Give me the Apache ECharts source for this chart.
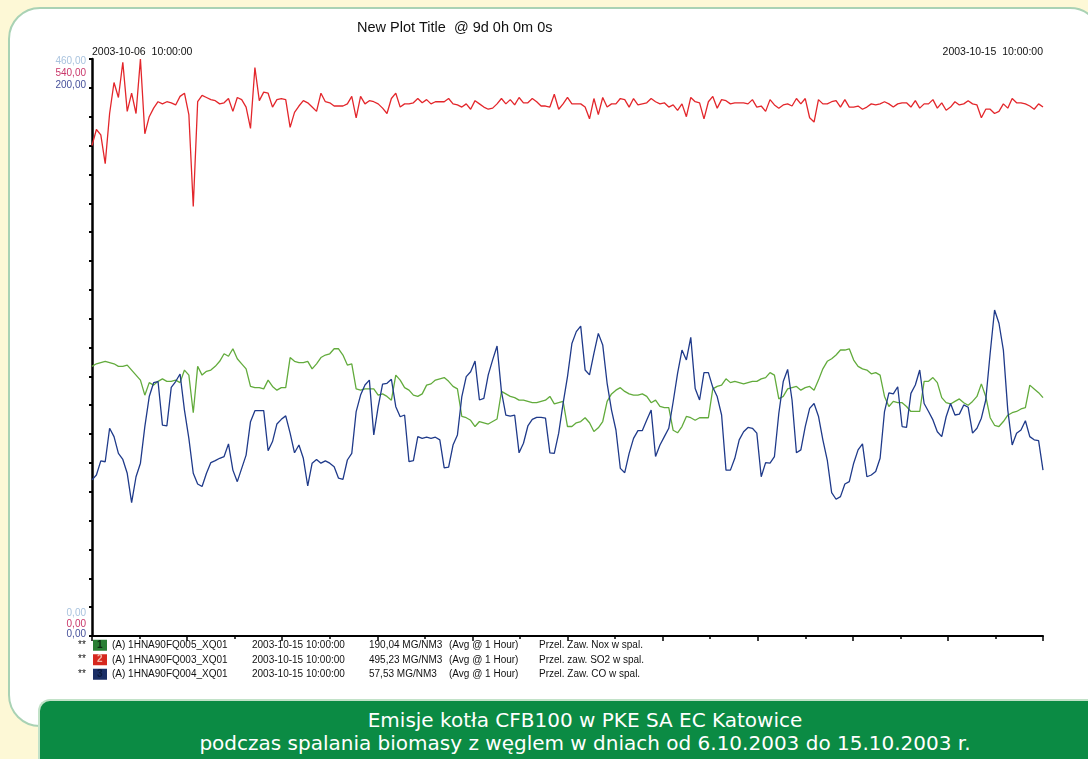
<!DOCTYPE html>
<html>
<head>
<meta charset="utf-8">
<script src="https://cdn.jsdelivr.net/npm/echarts@6/dist/echarts.min.js"></script>
<style>
  html, body { margin: 0; padding: 0; }
  body { width: 1088px; height: 759px; background: #fdf8d6; position: relative; overflow: hidden; }
  .panel {
    position: absolute; left: 8px; top: 7px; width: 1090px; height: 716px;
    background: #fff; border: 2.5px solid #a9d2b4; border-radius: 32px;
  }
  .banner {
    position: absolute; left: 38px; top: 699px; width: 1030px; height: 70px;
    padding-left: 30px; box-sizing: content-box;
    background: #0b8b44; border-top: 2px solid #c2e2c8; border-left: 2px solid #c2e2c8;
    border-top-left-radius: 12px;
    color: #fff; font-family: "DejaVu Sans", sans-serif; font-size: 20px;
    line-height: 23px; text-align: center; padding-top: 8px;
  }
  #chart { position: absolute; left: 0; top: 0; width: 1088px; height: 759px; }
</style>
</head>
<body>
<div class="panel"></div>
<div class="banner">Emisje kotła CFB100 w PKE SA EC Katowice<br>podczas spalania biomasy z węglem w dniach od 6.10.2003 do 15.10.2003 r.</div>
<div id="chart"></div>
<script>
  // hourly averages 2003-10-06 10:00 .. 2003-10-15 10:00 (217 points)
  const stepMinutes = 60
  const spanMinutes = 12960

  const noxValues = [
    215, 217, 218, 219, 218, 217, 215, 215, 216, 212, 208, 204, 192, 202, 200, 203, 205, 203, 203, 204,
    202, 212, 208, 178, 215, 208, 211, 212, 215, 219, 225, 223, 229, 221, 217, 213, 199, 198, 198, 197,
    204, 199, 196, 198, 198, 222, 219, 218, 218, 219, 213, 217, 222, 224, 225, 229, 229, 224, 216, 217,
    197, 196, 197, 197, 197, 192, 193, 191, 188, 208, 204, 198, 196, 192, 191, 193, 200, 201, 204, 205,
    206, 203, 199, 197, 175, 174, 172, 167, 171, 170, 169, 171, 173, 195, 193, 191, 190, 188, 188, 187,
    186, 186, 187, 188, 191, 185, 186, 187, 167, 167, 170, 171, 174, 170, 163, 166, 171, 187, 193, 196,
    198, 195, 193, 192, 192, 193, 191, 186, 188, 183, 182, 182, 164, 162, 167, 175, 174, 172, 174, 174,
    174, 197, 199, 200, 205, 202, 203, 202, 201, 202, 203, 203, 205, 206, 210, 208, 189, 191, 197, 198,
    199, 196, 198, 199, 196, 204, 213, 219, 221, 224, 228, 228, 229, 220, 215, 213, 212, 209, 210, 208,
    191, 183, 187, 186, 186, 183, 179, 179, 179, 203, 203, 206, 202, 190, 186, 185, 187, 189, 186, 184,
    187, 191, 201, 191, 174, 168, 167, 171, 176, 178, 179, 181, 182, 200, 197, 194, 190
  ]

  const so2Values = [
    459, 474, 469, 442, 489, 518, 504, 537, 491, 508, 489, 540, 470, 486, 494, 500, 498, 500, 499, 497,
    505, 508, 488, 402, 500, 506, 504, 502, 501, 498, 499, 503, 491, 504, 502, 495, 475, 532, 501, 509,
    508, 495, 502, 503, 502, 476, 490, 496, 501, 499, 495, 491, 508, 500, 499, 496, 496, 496, 498, 505,
    485, 505, 498, 501, 500, 498, 494, 489, 503, 508, 495, 498, 498, 499, 503, 499, 502, 498, 500, 500,
    500, 503, 498, 497, 495, 498, 493, 501, 498, 495, 493, 494, 498, 503, 498, 502, 497, 504, 499, 499,
    503, 500, 496, 496, 495, 507, 493, 498, 504, 498, 498, 498, 495, 484, 503, 488, 504, 495, 498, 498,
    503, 502, 495, 503, 497, 498, 499, 503, 500, 498, 499, 495, 497, 492, 498, 486, 504, 500, 499, 484,
    500, 505, 494, 502, 501, 498, 499, 499, 499, 498, 502, 495, 496, 491, 502, 497, 494, 497, 498, 496,
    503, 498, 503, 485, 481, 502, 498, 498, 500, 501, 495, 502, 495, 495, 496, 493, 495, 498, 497, 498,
    500, 498, 495, 498, 499, 499, 495, 501, 494, 498, 498, 502, 494, 499, 492, 495, 500, 497, 498, 501,
    498, 497, 485, 493, 493, 489, 491, 498, 494, 503, 499, 499, 498, 496, 493, 498, 495
  ]

  const coValues = [
    54.1, 55.8, 60.7, 60.4, 72.0, 69.1, 63.3, 61.2, 56.4, 46.2, 55.2, 59.9, 72.6, 83.0, 87.8, 88.2, 73.1, 72.8, 86.2, 88.2,
    90.8, 78.3, 68.5, 56.4, 52.7, 51.8, 56.4, 60.1, 60.8, 61.6, 62.2, 66.6, 57.5, 53.5, 58.1, 62.7, 74.3, 78.1, 78.1, 78.1,
    64.2, 67.4, 73.5, 75.1, 76.3, 70.3, 63.5, 66.2, 61.6, 52.0, 59.9, 61.2, 59.9, 60.7, 59.9, 58.7, 54.7, 54.3, 61.0, 63.3,
    77.8, 83.5, 87.0, 88.7, 69.7, 79.5, 87.3, 87.6, 89.0, 79.5, 76.0, 76.6, 60.4, 60.8, 69.1, 68.5, 68.9, 68.5, 68.9, 68.0,
    58.3, 58.5, 66.2, 69.7, 83.0, 89.9, 91.6, 95.3, 81.8, 82.4, 90.5, 95.7, 100.5, 84.7, 76.6, 76.2, 76.6, 63.5, 66.8, 72.8,
    75.1, 75.8, 75.8, 75.5, 63.5, 63.3, 70.3, 80.6, 89.9, 101.4, 105.5, 107.4, 92.2, 90.5, 98.0, 104.9, 100.9, 87.6, 78.3, 71.4,
    58.1, 56.6, 63.3, 68.5, 71.2, 71.2, 74.9, 78.3, 62.2, 66.2, 69.1, 72.0, 81.2, 91.0, 99.1, 95.7, 103.5, 85.8, 81.8, 91.3,
    91.3, 86.2, 83.0, 76.6, 57.5, 57.5, 61.6, 68.0, 70.8, 72.3, 72.0, 70.3, 55.2, 60.1, 59.9, 62.2, 77.2, 88.2, 92.4, 81.8,
    63.5, 64.5, 72.6, 78.9, 80.6, 76.2, 68.0, 61.0, 49.7, 47.4, 48.3, 52.7, 53.5, 59.9, 64.5, 66.6, 55.2, 55.8, 57.0, 61.6,
    77.8, 84.3, 83.9, 86.4, 72.6, 72.3, 84.1, 87.0, 92.2, 80.6, 77.8, 74.9, 70.8, 69.1, 76.0, 80.6, 76.6, 76.9, 80.1, 79.3,
    70.3, 72.0, 75.5, 81.8, 98.0, 113.0, 108.4, 99.1, 78.3, 66.2, 70.3, 71.4, 74.6, 69.1, 68.0, 67.7, 57.5
  ]

  // axis ranges (one per pen)
  const noxMax = 460
  const so2Max = 540
  const coMax = 200

  const dateLabels = ['2003-10-06  10:00:00', '2003-10-15  10:00:00']

  // legend rows
  const penNames = ['Przel. Zaw. Nox w spal.', 'Przel. zaw. SO2 w spal.', 'Przel. Zaw. CO w spal.']
  const penTags = ['(A) 1HNA90FQ005_XQ01', '(A) 1HNA90FQ003_XQ01', '(A) 1HNA90FQ004_XQ01']
  const penTimes = ['2003-10-15 10:00:00', '2003-10-15 10:00:00', '2003-10-15 10:00:00']
  const penLast = ['190,04 MG/NM3', '495,23 MG/NM3', '57,53 MG/NM3']
  const penAvg = ['(Avg @ 1 Hour)', '(Avg @ 1 Hour)', '(Avg @ 1 Hour)']

  const lineColors = ['#62ab3c', '#e3262b', '#1f3a8a']
  const boxColors = ['#2a7f34', '#d6281f', '#1b2f66']
  const numColors = ['#0d2a12', '#f2b6a6', '#0a1a3c']
  const labelColors = ['#a9c3de', '#c9376a', '#46509a']

  const font = '"Liberation Sans", Arial, sans-serif'

  function fmt(v) {
    return v.toFixed(2).replace('.', ',')
  }

  function toPairs(values) {
    return values.map(function (v, i) { return [i * stepMinutes, v] })
  }

  // left axis; only the first one draws the line and ticks, all show min/max labels stacked
  function valueAxis(max, idx, padTop, padBottom) {
    return {
      type: 'value',
      min: 0,
      max: max,
      interval: max / 20,
      position: 'left',
      axisLine: { show: idx === 0, lineStyle: { color: '#000', width: 2.5 } },
      axisTick: { show: idx === 0, length: 3, lineStyle: { color: '#000', width: 2 } },
      splitLine: { show: false },
      axisLabel: {
        margin: 6,
        fontSize: 10,
        fontFamily: font,
        color: labelColors[idx],
        formatter: function (v) {
          if (v === max) return '{t|' + fmt(v) + '}'
          if (v === 0) return '{b|' + fmt(v) + '}'
          return ''
        },
        rich: {
          t: { padding: [padTop, 0, 0, 0], fontSize: 10, color: labelColors[idx], fontFamily: font },
          b: { padding: [0, 0, padBottom, 0], fontSize: 10, color: labelColors[idx], fontFamily: font }
        }
      }
    }
  }

  let chart = echarts.init(document.getElementById('chart'), null, { renderer: 'canvas' })

  let option = {
    backgroundColor: 'transparent',
    animation: false,
    title: {
      text: 'New Plot Title  @ 9d 0h 0m 0s',
      left: 357,
      top: 20,
      padding: 0,
      textStyle: { fontSize: 14.5, fontWeight: 'normal', color: '#111', fontFamily: font }
    },
    grid: { left: 92, right: 45, top: 59, bottom: 123, containLabel: false },
    xAxis: [{
      type: 'value',
      min: 0,
      max: spanMinutes,
      interval: spanMinutes / 10,
      axisLine: { lineStyle: { color: '#000', width: 2 } },
      axisTick: { length: 5, lineStyle: { color: '#000', width: 1.5 } },
      minorTick: { show: true, splitNumber: 2, length: 3, lineStyle: { color: '#000', width: 1.5 } },
      axisLabel: { show: false },
      splitLine: { show: false }
    }, {
      type: 'value',
      position: 'top',
      min: 0,
      max: spanMinutes,
      interval: spanMinutes,
      axisLine: { show: false },
      axisTick: { show: false },
      splitLine: { show: false },
      axisLabel: {
        margin: 1,
        fontSize: 10.5,
        fontFamily: font,
        color: '#111',
        showMinLabel: true,
        showMaxLabel: true,
        alignMinLabel: 'left',
        alignMaxLabel: 'right',
        formatter: function (v) { return v === 0 ? dateLabels[0] : dateLabels[1] }
      }
    }],
    yAxis: [
      valueAxis(noxMax, 0, 4, 46),
      valueAxis(so2Max, 1, 28, 24),
      valueAxis(coMax, 2, 52, 4)
    ],
    legend: {
      orient: 'vertical',
      left: 93,
      top: 639,
      padding: 0,
      itemGap: 2,
      itemWidth: 14,
      itemHeight: 11,
      icon: 'rect',
      selectedMode: false,
      data: penNames.map(function (n, i) { return { name: n, itemStyle: { color: boxColors[i] } } }),
      textStyle: { fontSize: 10, fontFamily: font, color: '#111', lineHeight: 12.5 },
      formatter: function (name) {
        let i = penNames.indexOf(name)
        return '{a|' + penTags[i] + '}{b|' + penTimes[i] + '}{c|' + penLast[i] + '}{d|' + penAvg[i] + '}{e|' + name + '}'
      }
    },
    graphic: [0, 1, 2].map(function (i) {
      return {
        type: 'text',
        z: 100,
        left: 78,
        top: 640 + i * 14.5,
        style: { text: '**', fontSize: 10, fontFamily: font, fill: '#111' }
      }
    }).concat([0, 1, 2].map(function (i) {
      return {
        type: 'text',
        z: 100,
        left: 97,
        top: 640 + i * 14.5,
        style: { text: String(i + 1), fontSize: 10, fontWeight: 'bold', fontFamily: font, fill: numColors[i] }
      }
    })),
    series: [{
      name: penNames[0],
      type: 'line',
      xAxisIndex: 0,
      yAxisIndex: 0,
      showSymbol: false,
      lineStyle: { color: lineColors[0], width: 1.3 },
      itemStyle: { color: lineColors[0] },
      data: toPairs(noxValues)
    }, {
      name: penNames[1],
      type: 'line',
      xAxisIndex: 0,
      yAxisIndex: 1,
      showSymbol: false,
      lineStyle: { color: lineColors[1], width: 1.3 },
      itemStyle: { color: lineColors[1] },
      data: toPairs(so2Values)
    }, {
      name: penNames[2],
      type: 'line',
      xAxisIndex: 0,
      yAxisIndex: 2,
      showSymbol: false,
      lineStyle: { color: lineColors[2], width: 1.3 },
      itemStyle: { color: lineColors[2] },
      data: toPairs(coValues)
    }]
  }

  // legend column widths
  option.legend.textStyle.rich = {
    a: { width: 140, fontSize: 10, fontFamily: font, color: '#111' },
    b: { width: 117, fontSize: 10, fontFamily: font, color: '#111' },
    c: { width: 80, fontSize: 10, fontFamily: font, color: '#111' },
    d: { width: 90, fontSize: 10, fontFamily: font, color: '#111' },
    e: { fontSize: 10, fontFamily: font, color: '#111' }
  }

  chart.setOption(option, true)
</script>
</body>
</html>
